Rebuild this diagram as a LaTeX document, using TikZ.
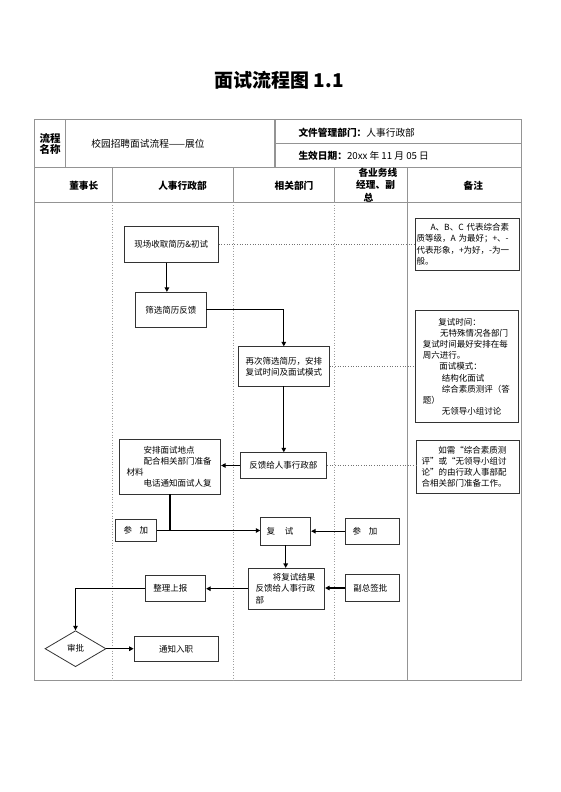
\documentclass[tikz,border=0pt]{standalone}
\usepackage{fontspec}
\setmainfont{Noto Sans CJK SC}
\usetikzlibrary{arrows.meta,shapes.geometric}
\newcommand\myfs{\fontsize{8.5}{11.2}\selectfont}
\newcommand\hdfs{\fontsize{9.7}{12.3}\selectfont}
\begin{document}
\begin{tikzpicture}[x=1pt,y=-1pt,
  tline/.style={draw=black!42,line width=1.1pt},
  tdot/.style={draw=black!38,line width=0.7pt,dotted},
  boxn/.style={draw=black!80,line width=0.8pt,rectangle,font=\myfs,inner ysep=0pt},
  conn/.style={draw=black,line width=1.1pt,-{Triangle[length=4.5pt,width=4.5pt]}},
  plainline/.style={draw=black,line width=1.1pt},
  notelink/.style={draw=black!55,line width=0.6pt,dotted},
  hd/.style={font=\hdfs\bfseries,inner sep=0pt},
  hdn/.style={font=\hdfs,inner sep=0pt},
]
\useasboundingbox (0,0) rectangle (560,792);

% title
\node[font=\fontsize{19}{22}\selectfont\bfseries,inner sep=0pt] (title) at (279.2,80.7) {面试流程图 1.1};

% table frame
\draw[tline] (34.7,119.3) rectangle (521.7,680.7);
\draw[tline] (34.7,167.7) -- (521.7,167.7);
\draw[tline] (34.7,202.3) -- (521.7,202.3);
\draw[tline] (65.7,119.3) -- (65.7,167.7);
\draw[tline] (275,119.3) -- (275,167.7);
\draw[tline] (275,143.3) -- (521.7,143.3);
\foreach \x in {112.7,233.3,334.3,407.7} \draw[tline] (\x,167.7) -- (\x,202.3);
\foreach \x in {112.7,233.3,334.3} \draw[tdot] (\x,202.3) -- (\x,680.7);
\draw[tline] (407.7,202.3) -- (407.7,680.7);

% header texts
\node[font=\fontsize{10.5}{11}\selectfont\bfseries,inner sep=0pt,align=center] (lcmc) at (50.2,143.8) {流程\\名称};
\node[hdn] (lcname) at (148,144) {校园招聘面试流程——展位};
\node[hdn,anchor=west] (dept) at (298.3,132.7) {\textbf{文件管理部门：}人事行政部};
\node[hdn,anchor=west] (date) at (298.3,156) {\textbf{生效日期：}20xx 年 11 月 05 日};

\node[hd] (c1) at (83.8,186) {董事长};
\node[hd] (c2) at (182.5,186) {人事行政部};
\node[hd] (c3) at (294,186) {相关部门};
\node[hd,align=left,anchor=west] (c4) at (356,185) {\hspace*{2.3pt}各业务线\\经理、副\\\hspace*{7.3pt}总};
\node[hd] (c5) at (473.3,186) {备注};

% flow boxes
\node[boxn,minimum width=94.3pt,minimum height=35.6pt,inner xsep=0pt,align=center] (b1) at (171.2,244.5) {现场收取简历\&初试};
\node[boxn,minimum width=70.3pt,minimum height=35pt,inner xsep=0pt,align=center] (b2) at (170.9,309.8) {筛选简历反馈};
\node[boxn,minimum width=91pt,minimum height=39.3pt,inner xsep=0pt,align=center] (b3) at (283.8,366.4) {再次筛选简历，安排\\复试时间及面试模式};
\node[boxn,minimum width=86.7pt,minimum height=25.6pt,inner xsep=0pt,align=center] (b4) at (283.4,465.5) {反馈给人事行政部};
\node[boxn,text width=86.6pt,inner xsep=7.4pt,minimum height=54.7pt,align=left] (b5) at (170,466.7)
  {\hspace*{17pt}安排面试地点\\\hspace*{17pt}配合相关部门准备\\材料\\\hspace*{17pt}电话通知面试人复};
\node[boxn,minimum width=41.7pt,minimum height=22.4pt,inner xsep=0pt,align=center] (b6) at (135.9,530.5) {参\hspace{7.6pt}加};
\node[boxn,text width=38pt,inner xsep=6pt,minimum height=27.3pt,align=left] (b7) at (285.7,531.4) {复\hspace{9.6pt}试};
\node[boxn,text width=38.6pt,inner xsep=7.7pt,minimum height=25.7pt,align=left] (b8) at (372,531.2) {参\hspace{7.6pt}加};
\node[boxn,text width=62pt,inner xsep=7.2pt,minimum height=40.7pt,align=left] (b9) at (286.5,588.7)
  {\hspace*{17.3pt}将复试结果\\反馈给人事行政\\部};
\node[boxn,text width=38.1pt,inner xsep=7.6pt,minimum height=27.4pt,align=left] (b10) at (372.4,588) {副总签批};
\node[boxn,text width=44.4pt,inner xsep=8pt,minimum height=26pt,align=left] (b11) at (175.5,588.7) {整理上报};
\node[boxn,shape=diamond,minimum width=61pt,minimum height=36pt,inner sep=0pt] (b12) at (75.5,648.7) {审批};
\node[boxn,minimum width=84.3pt,minimum height=25pt,inner xsep=0pt,align=center] (b13) at (176.2,649.2) {通知入职};

% notes
\node[boxn,text width=101pt,inner xsep=1.5pt,minimum height=51.7pt,align=left] (n1) at (467,244.2)
  {\hspace*{14pt}A、B、C 代表综合素\\质等级，A 为最好；+、-\\代表形象，+为好，-为一\\般。};
\node[boxn,text width=88.3pt,inner xsep=7.7pt,minimum height=112pt,align=left] (n2) at (466.9,366.7)
  {\hspace*{15.6pt}复试时间：\\\hspace*{17.3pt}无特殊情况各部门\\复试时间最好安排在每\\周六进行。\\\hspace*{16.6pt}面试模式：\\\hspace*{19pt}结构化面试\\\hspace*{19pt}综合素质测评（答\\题）\\\hspace*{19pt}无领导小组讨论};
\node[boxn,text width=91.6pt,inner xsep=5.7pt,minimum height=53.3pt,align=left] (n3) at (467.5,466.7)
  {\hspace*{16.6pt}如需“综合素质测\\评”或“无领导小组讨\\论”的由行政人事部配\\合相关部门准备工作。};

% connectors
\draw[conn] ([xshift=-4.3pt]b1.south) -- ([xshift=-4.3pt]b1.south |- b2.north);
\draw[conn] (b2.east) -| (b3.north);
\draw[conn] (b3.south) -- (b3.south |- b4.north);
\draw[conn] (b4.west) -- (b4.west -| b5.east);
\draw[plainline] (b5.south) -- (b5.south |- b6.east);
\draw[conn] (b6.east) -- (b6.east -| b7.west);
\draw[conn] (b8.west) -- (b8.west -| b7.east);
\draw[conn] (b7.south) -- (b7.south |- b9.north);
\draw[conn] (b10.west) -- (b10.west -| b9.east);
\draw[conn] (b9.west) -- (b9.west -| b11.east);
\draw[conn] (b11.west) -| (b12.north);
\draw[conn] (b12.east) -- (b12.east -| b13.west);

% note links
\draw[notelink] (b1.east) -- (b1.east -| n1.west);
\draw[notelink] (b3.east) -- (b3.east -| n2.west);
\draw[notelink] (b4.east) -- (b4.east -| n3.west);
\end{tikzpicture}
\end{document}
